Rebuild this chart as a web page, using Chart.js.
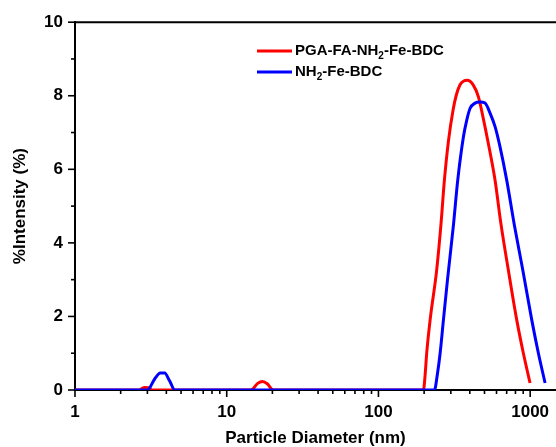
<!DOCTYPE html>
<html lang="en">
<head>
    <meta charset="UTF-8">
    <title>Particle size distribution</title>
    <script src="https://cdn.jsdelivr.net/npm/chart.js"></script>
    <style>
        html, body { margin: 0; padding: 0; background: #fff; }
        .chart-container { width: 556px; height: 447px; position: relative; }
    </style>
</head>
<body>
    <div class="chart-container">
        <canvas id="myChart"></canvas>
    </div>

    <script>
        // series (diameter in nm, intensity in %)
        var redName = ['PGA-FA-NH', '2', '-Fe-BDC'];
        var redSize = [1, 2.65, 2.85, 3.05, 3.25, 14.5, 16, 17.2, 18.5, 20.2,
            198, 203, 208, 219, 242, 258, 272, 290, 310, 325, 345, 365, 384, 422, 456, 490, 530,
            587, 640, 718, 816, 902, 998];
        var redValue = [0, 0, 0.07, 0.06, 0, 0, 0.18, 0.23, 0.17, 0,
            0, 0.4, 1.0, 1.9, 3.26, 4.48, 5.7, 6.8, 7.6, 8.0, 8.3, 8.4, 8.42, 8.29, 7.97, 7.4, 6.7,
            5.7, 4.55, 3.26, 1.9, 1.0, 0.19];

        var blueName = ['NH', '2', '-Fe-BDC'];
        var blueSize = [1, 3.0, 3.35, 3.65, 3.9, 4.2, 4.55,
            234, 244, 255, 268, 285, 312, 333, 363, 382, 402, 433, 468, 504, 544, 587, 633,
            701, 787, 894, 1025, 1133, 1254];
        var blueValue = [0, 0, 0.3, 0.46, 0.46, 0.25, 0,
            0, 0.4, 1.0, 1.9, 2.99, 4.48, 5.7, 6.88, 7.34, 7.66, 7.8, 7.83, 7.8, 7.53, 7.16, 6.61,
            5.7, 4.48, 3.26, 1.9, 1.0, 0.19];

        var xTickLabels = [1, 10, 100, 1000];
        var yTickLabels = [0, 2, 4, 6, 8, 10];

        var fontFamily = '"Liberation Sans", Arial, sans-serif';

        function points(sizes, values) {
            return sizes.map(function (s, i) { return { x: s, y: values[i] }; });
        }

        // top frame, tick marks and the in-plot legend
        var extras = {
            id: 'extras',
            afterDraw: function (chart) {
                var ctx = chart.ctx;
                var area = chart.chartArea;
                var xs = chart.scales.x;
                var ys = chart.scales.y;
                ctx.save();
                ctx.strokeStyle = '#000';
                ctx.lineWidth = 2;
                ctx.beginPath();
                ctx.moveTo(area.left - 1, area.top);
                ctx.lineTo(area.right, area.top);
                ctx.stroke();

                ctx.lineWidth = 1.6;
                xs.ticks.forEach(function (t) {
                    if (t.value > xs.max) return;
                    var sig = t.value / Math.pow(10, Math.floor(Math.log10(t.value) + 1e-9));
                    if (Math.abs(sig - Math.round(sig)) > 1e-6) return;
                    var px = xs.getPixelForValue(t.value);
                    var len = xTickLabels.indexOf(t.value) >= 0 ? 7 : 4;
                    ctx.beginPath();
                    ctx.moveTo(px, area.bottom);
                    ctx.lineTo(px, area.bottom + len);
                    ctx.stroke();
                });
                ys.ticks.forEach(function (t) {
                    var py = ys.getPixelForValue(t.value);
                    var len = yTickLabels.indexOf(t.value) >= 0 ? 7 : 4;
                    ctx.beginPath();
                    ctx.moveTo(area.left, py);
                    ctx.lineTo(area.left - len, py);
                    ctx.stroke();
                });

                var items = [
                    { name: redName, color: 'rgb(255,0,0)', y: 51 },
                    { name: blueName, color: 'rgb(0,0,255)', y: 72 }
                ];
                items.forEach(function (it) {
                    ctx.strokeStyle = it.color;
                    ctx.lineWidth = 3;
                    ctx.beginPath();
                    ctx.moveTo(257, it.y);
                    ctx.lineTo(292, it.y);
                    ctx.stroke();

                    ctx.fillStyle = '#000';
                    ctx.textBaseline = 'middle';
                    ctx.textAlign = 'left';
                    var x = 295;
                    ctx.font = 'bold 15px ' + fontFamily;
                    ctx.fillText(it.name[0], x, it.y);
                    x += ctx.measureText(it.name[0]).width;
                    ctx.font = 'bold 10px ' + fontFamily;
                    ctx.fillText(it.name[1], x, it.y + 5);
                    x += ctx.measureText(it.name[1]).width;
                    ctx.font = 'bold 15px ' + fontFamily;
                    ctx.fillText(it.name[2], x, it.y);
                });
                ctx.restore();
            }
        };

        var ctx = document.getElementById('myChart').getContext('2d');
        var myChart = new Chart(ctx, {
            type: 'line',
            data: {
                datasets: [{
                    label: redName.join(''),
                    data: points(redSize, redValue),
                    borderColor: 'rgb(255,0,0)',
                    borderWidth: 3,
                    pointRadius: 0,
                    cubicInterpolationMode: 'monotone',
                    fill: false,
                    order: 1
                }, {
                    label: blueName.join(''),
                    data: points(blueSize, blueValue),
                    borderColor: 'rgb(0,0,255)',
                    borderWidth: 3,
                    pointRadius: 0,
                    cubicInterpolationMode: 'monotone',
                    fill: false,
                    order: 0
                }]
            },
            options: {
                responsive: true,
                maintainAspectRatio: false,
                animation: false,
                layout: { padding: { top: 22, right: 0, left: 0, bottom: 0 } },
                plugins: {
                    legend: { display: false },
                    tooltip: { enabled: false }
                },
                scales: {
                    x: {
                        type: 'logarithmic',
                        min: 1,
                        max: 1480,
                        afterFit: function (s) {
                            s.height = 57;
                            s.paddingRight = 0;
                            s.paddingLeft = 0;
                        },
                        grid: { display: false, drawTicks: false },
                        border: { display: true, color: '#000', width: 2 },
                        ticks: {
                            autoSkip: false,
                            maxRotation: 0,
                            padding: 12,
                            color: '#000',
                            font: { family: fontFamily, size: 17, weight: 'bold' },
                            callback: function (v) {
                                return xTickLabels.indexOf(v) >= 0 ? String(v) : '';
                            }
                        },
                        title: {
                            display: true,
                            text: 'Particle Diameter (nm)',
                            color: '#000',
                            padding: { top: 0, bottom: 0 },
                            font: { family: fontFamily, size: 17, weight: 'bold', lineHeight: 1 }
                        }
                    },
                    y: {
                        min: 0,
                        max: 10,
                        afterFit: function (s) { s.width = 75; },
                        grid: { display: false, drawTicks: false },
                        border: { display: true, color: '#000', width: 2 },
                        ticks: {
                            stepSize: 1,
                            padding: 12,
                            color: '#000',
                            font: { family: fontFamily, size: 17, weight: 'bold' },
                            callback: function (v) {
                                return yTickLabels.indexOf(v) >= 0 ? String(v) : '';
                            }
                        },
                        title: {
                            display: true,
                            text: '%Intensity (%)',
                            color: '#000',
                            padding: { top: 12, bottom: 0 },
                            font: { family: fontFamily, size: 17, weight: 'bold', lineHeight: 1 }
                        }
                    }
                }
            },
            plugins: [extras]
        });
    </script>
</body>
</html>
